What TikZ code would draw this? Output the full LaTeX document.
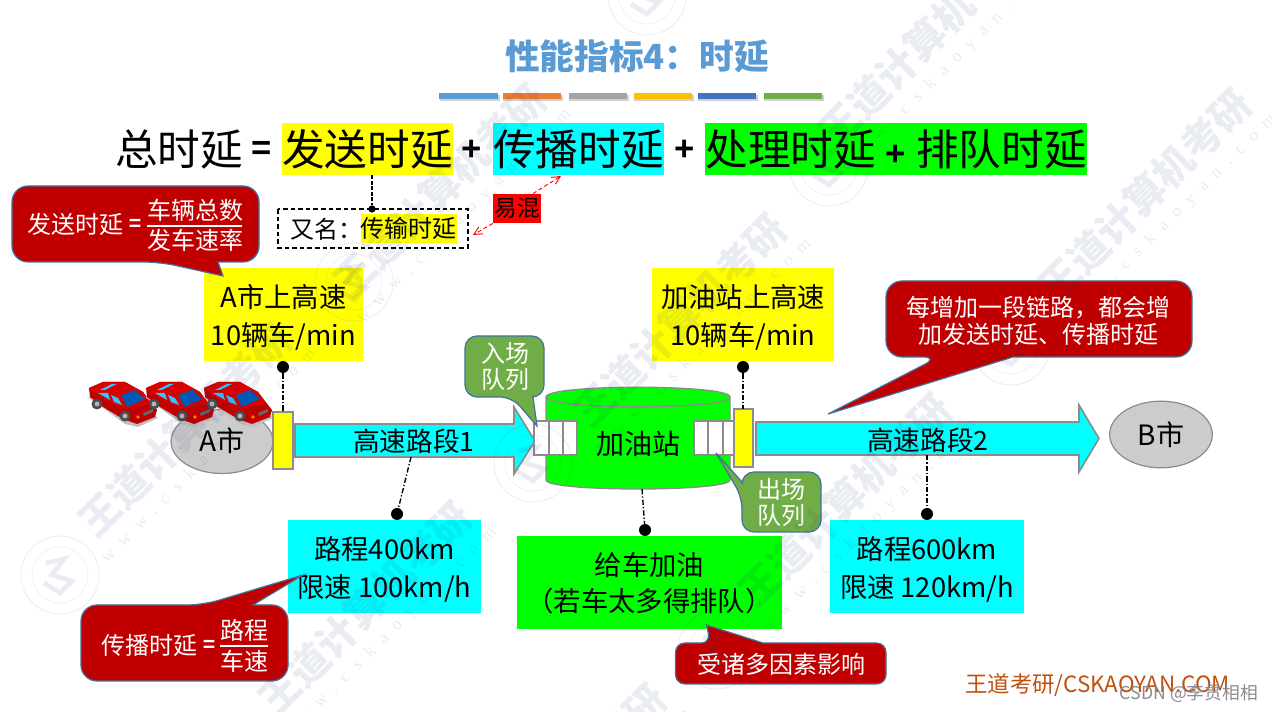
\documentclass[tikz,border=0pt]{standalone}
\usepackage{fontspec}
\setmainfont{Noto Sans CJK SC}
\newfontfamily\latinb{Liberation Sans}
\newfontfamily\wmfont[LetterSpace=60]{Liberation Serif}
\usetikzlibrary{arrows.meta,calc,shapes.geometric}
\definecolor{yellow}{HTML}{FFFF00}
\definecolor{cyan}{HTML}{00FFFF}
\definecolor{green}{HTML}{00FF00}
\definecolor{red}{HTML}{FF0000}
\definecolor{crimson}{HTML}{C00000}
\definecolor{cborder}{HTML}{41719C}
\definecolor{greenc}{HTML}{70AD47}
\definecolor{graye}{HTML}{CCCCCC}
\definecolor{grayb}{HTML}{8C8C8C}
\definecolor{titleblue}{HTML}{5B9BD5}
\definecolor{wmcolor}{HTML}{1F2F7F}
\definecolor{footc}{HTML}{C0500F}
\tikzset{
  x=0.75pt,y=-0.75pt,
  hl/.style={inner sep=0pt,outer sep=0pt,text=black,minimum height=39pt,font=\fontsize{32}{32}\selectfont},
  infofill/.style={inner sep=0pt,outer sep=0pt,minimum height=69.75pt},
  infot/.style={inner sep=0pt,outer sep=0pt,align=center,text=black,font=\fontsize{20.5}{28.5}\selectfont},
  callout/.style={fill=crimson,draw=cborder,line width=0.9pt},
  gcallout/.style={fill=greenc,draw=cborder,line width=0.9pt},
  whitet/.style={text=white,inner sep=0pt,align=center,font=\fontsize{18}{18}\selectfont},
  dot/.style={circle,fill=black,inner sep=0pt,minimum size=9pt},
  leader/.style={black,line width=1pt,dash pattern=on 4pt off 1.5pt on 1pt off 1.5pt},
  gate/.style={fill=yellow,draw=grayb,line width=1pt},
  road/.style={fill=cyan,draw=grayb,line width=1.2pt},
  cell/.style={fill=white,draw=grayb,line width=1pt},
  city/.style={ellipse,fill=graye,draw=grayb,line width=0.9pt},
  roadt/.style={inner sep=0pt,text=black,font=\fontsize{20}{20}\selectfont},
  symb/.style={inner sep=0pt,font=\latinb\bfseries\fontsize{26}{26}\selectfont},
  tbar/.style={inner sep=0pt,minimum height=4.5pt,minimum width=44pt},
  wmt/.style={rotate=45,inner sep=0pt,text=wmcolor,text opacity=0.09,font=\bfseries\fontsize{30}{30}\selectfont},
  wmu/.style={rotate=45,inner sep=0pt,text=wmcolor,text opacity=0.09,font=\wmfont\fontsize{13}{13}\selectfont},
  seal/.style={draw=wmcolor,draw opacity=0.09},
}
\newcommand\wmark[3]{%
  \node[wmt] (wm#1) at (#2,#3) {王道计算机考研};
  \node[wmu] (wu#1) at ($(#2,#3)+(24,26)$) {www.cskaoyan.com};}
\newcommand\sealmark[2]{%
  \draw[seal,line width=0.6pt] (#1,#2) circle[radius=39];
  \draw[seal,line width=0.4pt] (#1,#2) circle[radius=28];
  \draw[seal,line width=3.5pt] ($(#1,#2)+(-14,-12)$) -- ($(#1,#2)+(4,-16)$) -- ($(#1,#2)+(-8,0)$) -- ($(#1,#2)+(12,6)$) -- ($(#1,#2)+(0,18)$) -- ($(#1,#2)+(-16,8)$);}
% a small isometric car, local origin at the top left of its 90x60 box
\newcommand\carshape[1]{%
  \begin{scope}[shift={(#1,372)}]
    \fill[black!25] (8,25) -- (45,52) -- (58,55) -- (78,46) -- (60,30) -- cycle;
    \fill[red!75!black] (9,16) -- (23,10) -- (45,10) -- (63,20) -- (77,38) -- (75,45) -- (57,52) -- (43,47) -- (23,35) -- (10,25) -- cycle;
    \fill[red!85!black] (9,16) -- (23,10) -- (45,10) -- (63,20) -- (70,32) -- (45,37) -- (25,28) -- cycle;
    \fill[blue!50!cyan!70!black] (41,23) -- (55,18) -- (65,27) -- (47,35) -- cycle;
    \fill[cyan!70!blue!80] (18,21) -- (28,21) -- (30,28) -- cycle;
    \fill[cyan!70!blue!80] (31,23) -- (38,26) -- (42,33) -- (34,30) -- cycle;
    \fill[cyan!70!blue!80] (25,18) -- (37,12) -- (32,12) -- (20,18) -- cycle;
    \fill[black!70] (17,32) circle[radius=5.5];
    \fill[black!30] (17,32) circle[radius=2.5];
    \fill[black!70] (45,44) circle[radius=5.5];
    \fill[black!30] (45,44) circle[radius=2.5];
    \fill[orange] (58,45) circle[radius=1.8];
    \fill[black!60] (63,41) -- (73,37) -- (73,40) -- (64,44) -- cycle;
  \end{scope}}
\begin{document}
\begin{tikzpicture}
\useasboundingbox (0,0) rectangle (1272,712);
\fill[white] (0,0) rectangle (1272,712);

% title
\node[inner sep=0pt,text=titleblue,font=\bfseries\fontsize{26}{26}\selectfont] (title) at (637,56) {性能指标4：时延};
\foreach \cx/\col [count=\i] in {468.5/5B9BD5,532/ED7D31,598/A5A5A5,663/FFC000,727/4472C4,793/70AD47}{
  \definecolor{barc}{HTML}{\col}
  \fill[black,opacity=0.18] (\cx-29,95) rectangle (\cx+31,101.5);
  \node[tbar,fill=barc] (bar\i) at (\cx,96.5) {};
}

% formula
\node[inner sep=0pt,font=\fontsize{32}{32}\selectfont] (total) at (179,149) {总时延};
\node[symb] (eq) at (262,150) {=};
\node[hl,fill=yellow,minimum width=128.25pt] (send) at (367.5,149) {发送时延};
\node[symb] (plusa) at (472,150) {+};
\node[hl,fill=cyan,minimum width=128.25pt] (prop) at (578.5,149) {传播时延};
\node[symb] (plusb) at (685,150) {+};
\node[hl,fill=green,minimum width=286.5pt] (proc) at (896,149) {处理时延\makebox[30pt]{\latinb\bfseries\fontsize{26}{26}\selectfont +}排队时延};

% alias
\draw[black,line width=0.9pt,dash pattern=on 3.5pt off 2.2pt] (278,209) rectangle (468,248);
\node[inner sep=0pt,font=\fontsize{18}{18}\selectfont,anchor=west] (alias) at (290,229) {又名：};
\node[inner sep=0pt,fill=yellow,text=black,minimum width=71pt,minimum height=22pt,font=\fontsize{18}{18}\selectfont] (tx) at (408.5,228.5) {传输时延};
\node[dot,minimum size=5.5pt] (aliasdot) at (372,209) {};
\draw[leader,dash pattern=on 3pt off 1.2pt] (send.south -| aliasdot) -- (aliasdot);
\node[inner sep=0pt,fill=red,text=black,minimum width=36pt,minimum height=22pt,font=\fontsize{17}{17}\selectfont] (easy) at (517,208.5) {易混};
\coordinate (eu) at (561,176);
\coordinate (ed) at (473,235);
\draw[red,line width=0.7pt,densely dashed,-{Straight Barb[length=6pt,width=6pt]}] (easy.north) ++(16,0) -- (eu);
\draw[red,line width=0.7pt,densely dashed,-{Straight Barb[length=6pt,width=6pt]}] (easy.south west) -- (ed);

% top boxes
\node[infofill,fill=yellow,minimum width=119.25pt] (ya) at (283.5,314.5) {};
\node[infot] (yat) at (283.5,317) {A市上高速\\10辆车/min};
\node[infofill,fill=yellow,minimum width=136.5pt] (yb) at (743,314.5) {};
\node[infot] (ybt) at (743,317) {加油站上高速\\10辆车/min};

% callout: sending delay
\draw[callout] (160,262) [sharp corners] -- (223,276) -- (218,262) [rounded corners=12pt] -- (259,262) -- (259,186) -- (12,186) -- (12,262) -- cycle;
\node[whitet] (fa) at (75,224) {发送时延};
\node[whitet,font=\latinb\bfseries\fontsize{16}{16}\selectfont] (fb) at (135,225) {=};
\node[whitet] (fc) at (195,210) {车辆总数};
\node[whitet] (fd) at (195,240) {发车速率};
\draw[white,line width=0.9pt] (147,226) -- (242,226);

% city A, cars, road 1
\node[city,minimum width=76.5pt,minimum height=48pt,inner sep=0pt] (cityA) at (222,441.5) {};
\foreach \cxx in {89,146,204}{\carshape{\cxx-9}}
\node[inner sep=0pt,text=black,font=\fontsize{21}{21}\selectfont] (cityAt) at (222,441) {A市};
\draw[gate] (273,412) rectangle (293,469);
\coordinate (gateAt) at (283,412);
\node[dot] (dya) at (283,367) {};
\draw[leader] (dya) -- (gateAt);

\draw[road] (295,424) -- (514,424) -- (514,407) -- (535,441) -- (514,474) -- (514,457) -- (295,457) -- cycle;
\node[roadt] (r1) at (414,441) {高速路段1};

% gas station cylinder
\draw[fill=green,draw=grayb,line width=1pt] (546,397) -- (546,480) .. controls (546,492) and (730,492) .. (730,480) -- (730,397) .. controls (730,384) and (546,384) .. (546,397) -- cycle;
\draw[draw=grayb,line width=1pt] (546,397) .. controls (546,410) and (730,410) .. (730,397);
\node[inner sep=0pt,text=black,font=\fontsize{21}{21}\selectfont] (gas) at (638,444) {加油站};
\coordinate (gasb) at (642,489);

% queues
\draw[cell] (534,421) rectangle (549,455);
\draw[cell] (549,421) rectangle (563,455);
\draw[cell] (563,421) rectangle (577,455);
\draw[cell] (694,421) rectangle (708,455);
\draw[cell] (708,421) rectangle (723,455);
\draw[cell] (723,421) rectangle (737,455);

\draw[gate] (734,409) rectangle (753,467);
\coordinate (gateBt) at (743,409);
\node[dot] (dyb) at (743,367) {};
\draw[leader] (dyb) -- (gateBt);

\draw[road] (756,422) -- (1079,422) -- (1079,405) -- (1099,438.5) -- (1079,472) -- (1079,455) -- (756,455) -- cycle;
\node[roadt] (r2) at (928,440) {高速路段2};
\node[city,minimum width=77pt,minimum height=50pt,inner sep=0pt] (cityB) at (1161,434.5) {};
\node[inner sep=0pt,text=black,font=\fontsize{21}{21}\selectfont] (cityBt) at (1161,434.5) {B市};

% green callouts
\draw[gcallout] (512,397) [sharp corners] -- (537,426) -- (533,397) [rounded corners=9pt] -- (544,397) -- (544,336) -- (465,336) -- (465,397) -- cycle;
\node[whitet,font=\fontsize{18}{19.5}\selectfont] (inq) at (505,367) {入场\\队列};
\draw[gcallout] (742,497) [sharp corners] -- (716,453) -- (742,482) [rounded corners=9pt] -- (742,472) -- (821,472) -- (821,532) -- (742,532) -- cycle;
\node[whitet,font=\fontsize{18}{19.5}\selectfont] (outq) at (781,502) {出场\\队列};

% callout: each link
\draw[callout] (939,357) [sharp corners] -- (828,414) -- (1013,357) [rounded corners=12pt] -- (1192,357) -- (1192,281) -- (886,281) -- (886,357) -- cycle;
\node[whitet,font=\fontsize{18}{20.25}\selectfont] (note) at (1038,320.5) {每增加一段链路，都会增\\加发送时延、传播时延};

% lower boxes
\node[infofill,fill=cyan,minimum width=144.75pt] (ca) at (384.5,566.5) {};
\node[infot] (cat) at (384.5,569) {路程400km\\限速 100km/h};
\node[infofill,fill=cyan,minimum width=145.5pt] (cb) at (927,566.5) {};
\node[infot] (cbt) at (927,569) {路程600km\\限速 120km/h};
\node[infofill,fill=green,minimum width=198.75pt] (cc) at (649.5,582.5) {};
\node[infot,font=\fontsize{20.5}{27}\selectfont] (cct) at (649.5,583) {给车加油\\（若车太多得排队）};
\node[dot] (dca) at (397,514) {};
\node[dot] (dcb) at (927,514) {};
\node[dot] (dcc) at (645,530) {};
\coordinate (r1b) at (411,457);
\coordinate (r2b) at (927,455);
\draw[leader] (r1b) -- (dca);
\draw[leader] (r2b) -- (dcb);
\draw[leader] (gasb) -- (dcc);

% callout: propagation
\draw[callout] (203,605) [sharp corners] -- (303,575) -- (253,605) [rounded corners=12pt] -- (288,605) -- (288,681) -- (81,681) -- (81,605) -- cycle;
\node[whitet] (pa) at (149,645) {传播时延};
\node[whitet,font=\latinb\bfseries\fontsize{16}{16}\selectfont] (pb) at (209,646) {=};
\node[whitet] (pc) at (244,630) {路程};
\node[whitet] (pd) at (244,661) {车速};
\draw[white,line width=0.9pt] (220,646) -- (268,646);

% callout: factors
\draw[callout] (710.5,643) [sharp corners] -- (706.5,625) -- (763,643) [rounded corners=7pt] -- (886,643) -- (886,684) -- (675.5,684) -- (675.5,643) -- cycle;
\node[whitet] (fac) at (781,664) {受诸多因素影响};

% footer
\node[inner sep=0pt,anchor=west,text=footc,font=\fontsize{16.8}{16.8}\selectfont] (foot) at (965,685) {王道考研/CSKAOYAN.COM};
\node[inner sep=0pt,anchor=east,text=black!45,font=\fontsize{13.3}{13.3}\selectfont] (csdn) at (1258,694) {CSDN @李贯相相};

% faint marks laid over the slide
\begin{scope}
\clip (0,0) rectangle (1272,712);
\wmark{a}{185}{430}
\wmark{b}{365}{608}
\wmark{c}{440}{190}
\wmark{d}{680}{320}
\wmark{e}{845}{500}
\wmark{f}{925}{40}
\wmark{g}{1145}{195}
\wmark{h}{560}{790}
\sealmark{60}{575}
\sealmark{354}{282}
\sealmark{533}{463}
\sealmark{829}{167}
\sealmark{1011}{346}
\sealmark{717}{650}
\sealmark{647}{-4}
\end{scope}
\end{tikzpicture}
\end{document}
